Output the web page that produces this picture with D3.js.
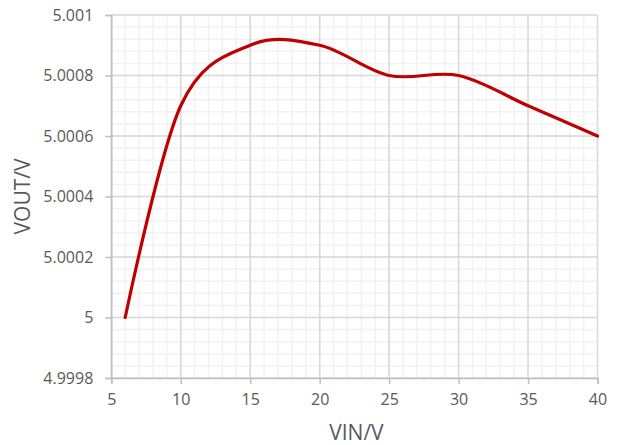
<!DOCTYPE html>
<html><head><meta charset="utf-8">
<script src="https://cdn.jsdelivr.net/npm/d3@7"></script>
<style>
html,body{margin:0;padding:0;background:#fff;}
text{font-family:"Open Sans",sans-serif;}
</style></head>
<body><svg id="c" width="619" height="445"></svg>
<script>
const vin = [6, 10, 15, 20, 25, 30, 35, 40];
const vout = [5.0000, 5.0007, 5.0009, 5.0009, 5.0008, 5.0008, 5.0007, 5.0006];
const xTicks = [5, 10, 15, 20, 25, 30, 35, 40];
const yTicks = [4.9998, 5.0000, 5.0002, 5.0004, 5.0006, 5.0008, 5.0010];
const yTickLabels = ["4.9998", "5", "5.0002", "5.0004", "5.0006", "5.0008", "5.001"];
const xTitle = "VIN/V", yTitle = "VOUT/V";

const svg = d3.select("#c");
const L = 111.3, R = 597.5, T = 15, B = 378;
const x = d3.scaleLinear().domain([5, 40]).range([L, R]);
const y = d3.scaleLinear().domain([4.9998, 5.0010]).range([B, T]);

const g = svg.append("g");
// minor grid
const xMinor = d3.range(5, 40.001, 1);
const yMinor = d3.range(0, 31).map(i => 4.9998 + i * 0.00004);
g.selectAll(".xm").data(xMinor).join("line")
  .attr("x1", d => x(d)).attr("x2", d => x(d)).attr("y1", T).attr("y2", B)
  .attr("stroke", "#f2f2f2").attr("stroke-width", 1.5);
g.selectAll(".ym").data(yMinor).join("line")
  .attr("x1", L).attr("x2", R).attr("y1", d => y(d)).attr("y2", d => y(d))
  .attr("stroke", "#f2f2f2").attr("stroke-width", 1.5);
// major grid
g.selectAll(".xM").data(xTicks).join("line")
  .attr("x1", d => x(d)).attr("x2", d => x(d)).attr("y1", T).attr("y2", B)
  .attr("stroke", "#d9d9d9").attr("stroke-width", 1.5);
g.selectAll(".yM").data(yTicks).join("line")
  .attr("x1", L).attr("x2", R).attr("y1", d => y(d)).attr("y2", d => y(d))
  .attr("stroke", "#d9d9d9").attr("stroke-width", 1.5);

// axes
const xAxis = d3.axisBottom(x).tickValues(xTicks).tickSize(6).tickPadding(10).tickFormat(d3.format("d"));
const yAxis = d3.axisLeft(y).tickValues(yTicks).tickSize(6).tickPadding(12)
  .tickFormat((d, i) => yTickLabels[i]);
const gx = svg.append("g").attr("transform", `translate(0,${B})`).call(xAxis);
const gy = svg.append("g").attr("transform", `translate(${L},0)`).call(yAxis);
[gx, gy].forEach(a => {
  a.select(".domain").attr("stroke", "#bfbfbf").attr("stroke-width", 1.5);
  a.selectAll(".tick line").attr("stroke", "#bfbfbf").attr("stroke-width", 1.5);
  a.selectAll(".tick text").attr("fill", "#595959").style("font-size", "16px").style("font-family", "'Open Sans',sans-serif");
});

// line
const line = d3.line().x((d, i) => x(vin[i])).y(d => y(d)).curve(d3.curveCatmullRom.alpha(0));
svg.append("path").datum(vout).attr("d", line)
  .attr("fill", "none").attr("stroke", "#c00000").attr("stroke-width", 3.2)
  .attr("stroke-linecap", "round").attr("stroke-linejoin", "round");

// titles
svg.append("text").attr("x", (L + R) / 2 + 2).attr("y", 440).attr("text-anchor", "middle")
  .attr("fill", "#595959").style("font-size", "21px").text(xTitle);
svg.append("text").attr("transform", `translate(30,${(T + B) / 2}) rotate(-90)`).attr("text-anchor", "middle")
  .attr("fill", "#595959").style("font-size", "21px").text(yTitle);
</script></body></html>
